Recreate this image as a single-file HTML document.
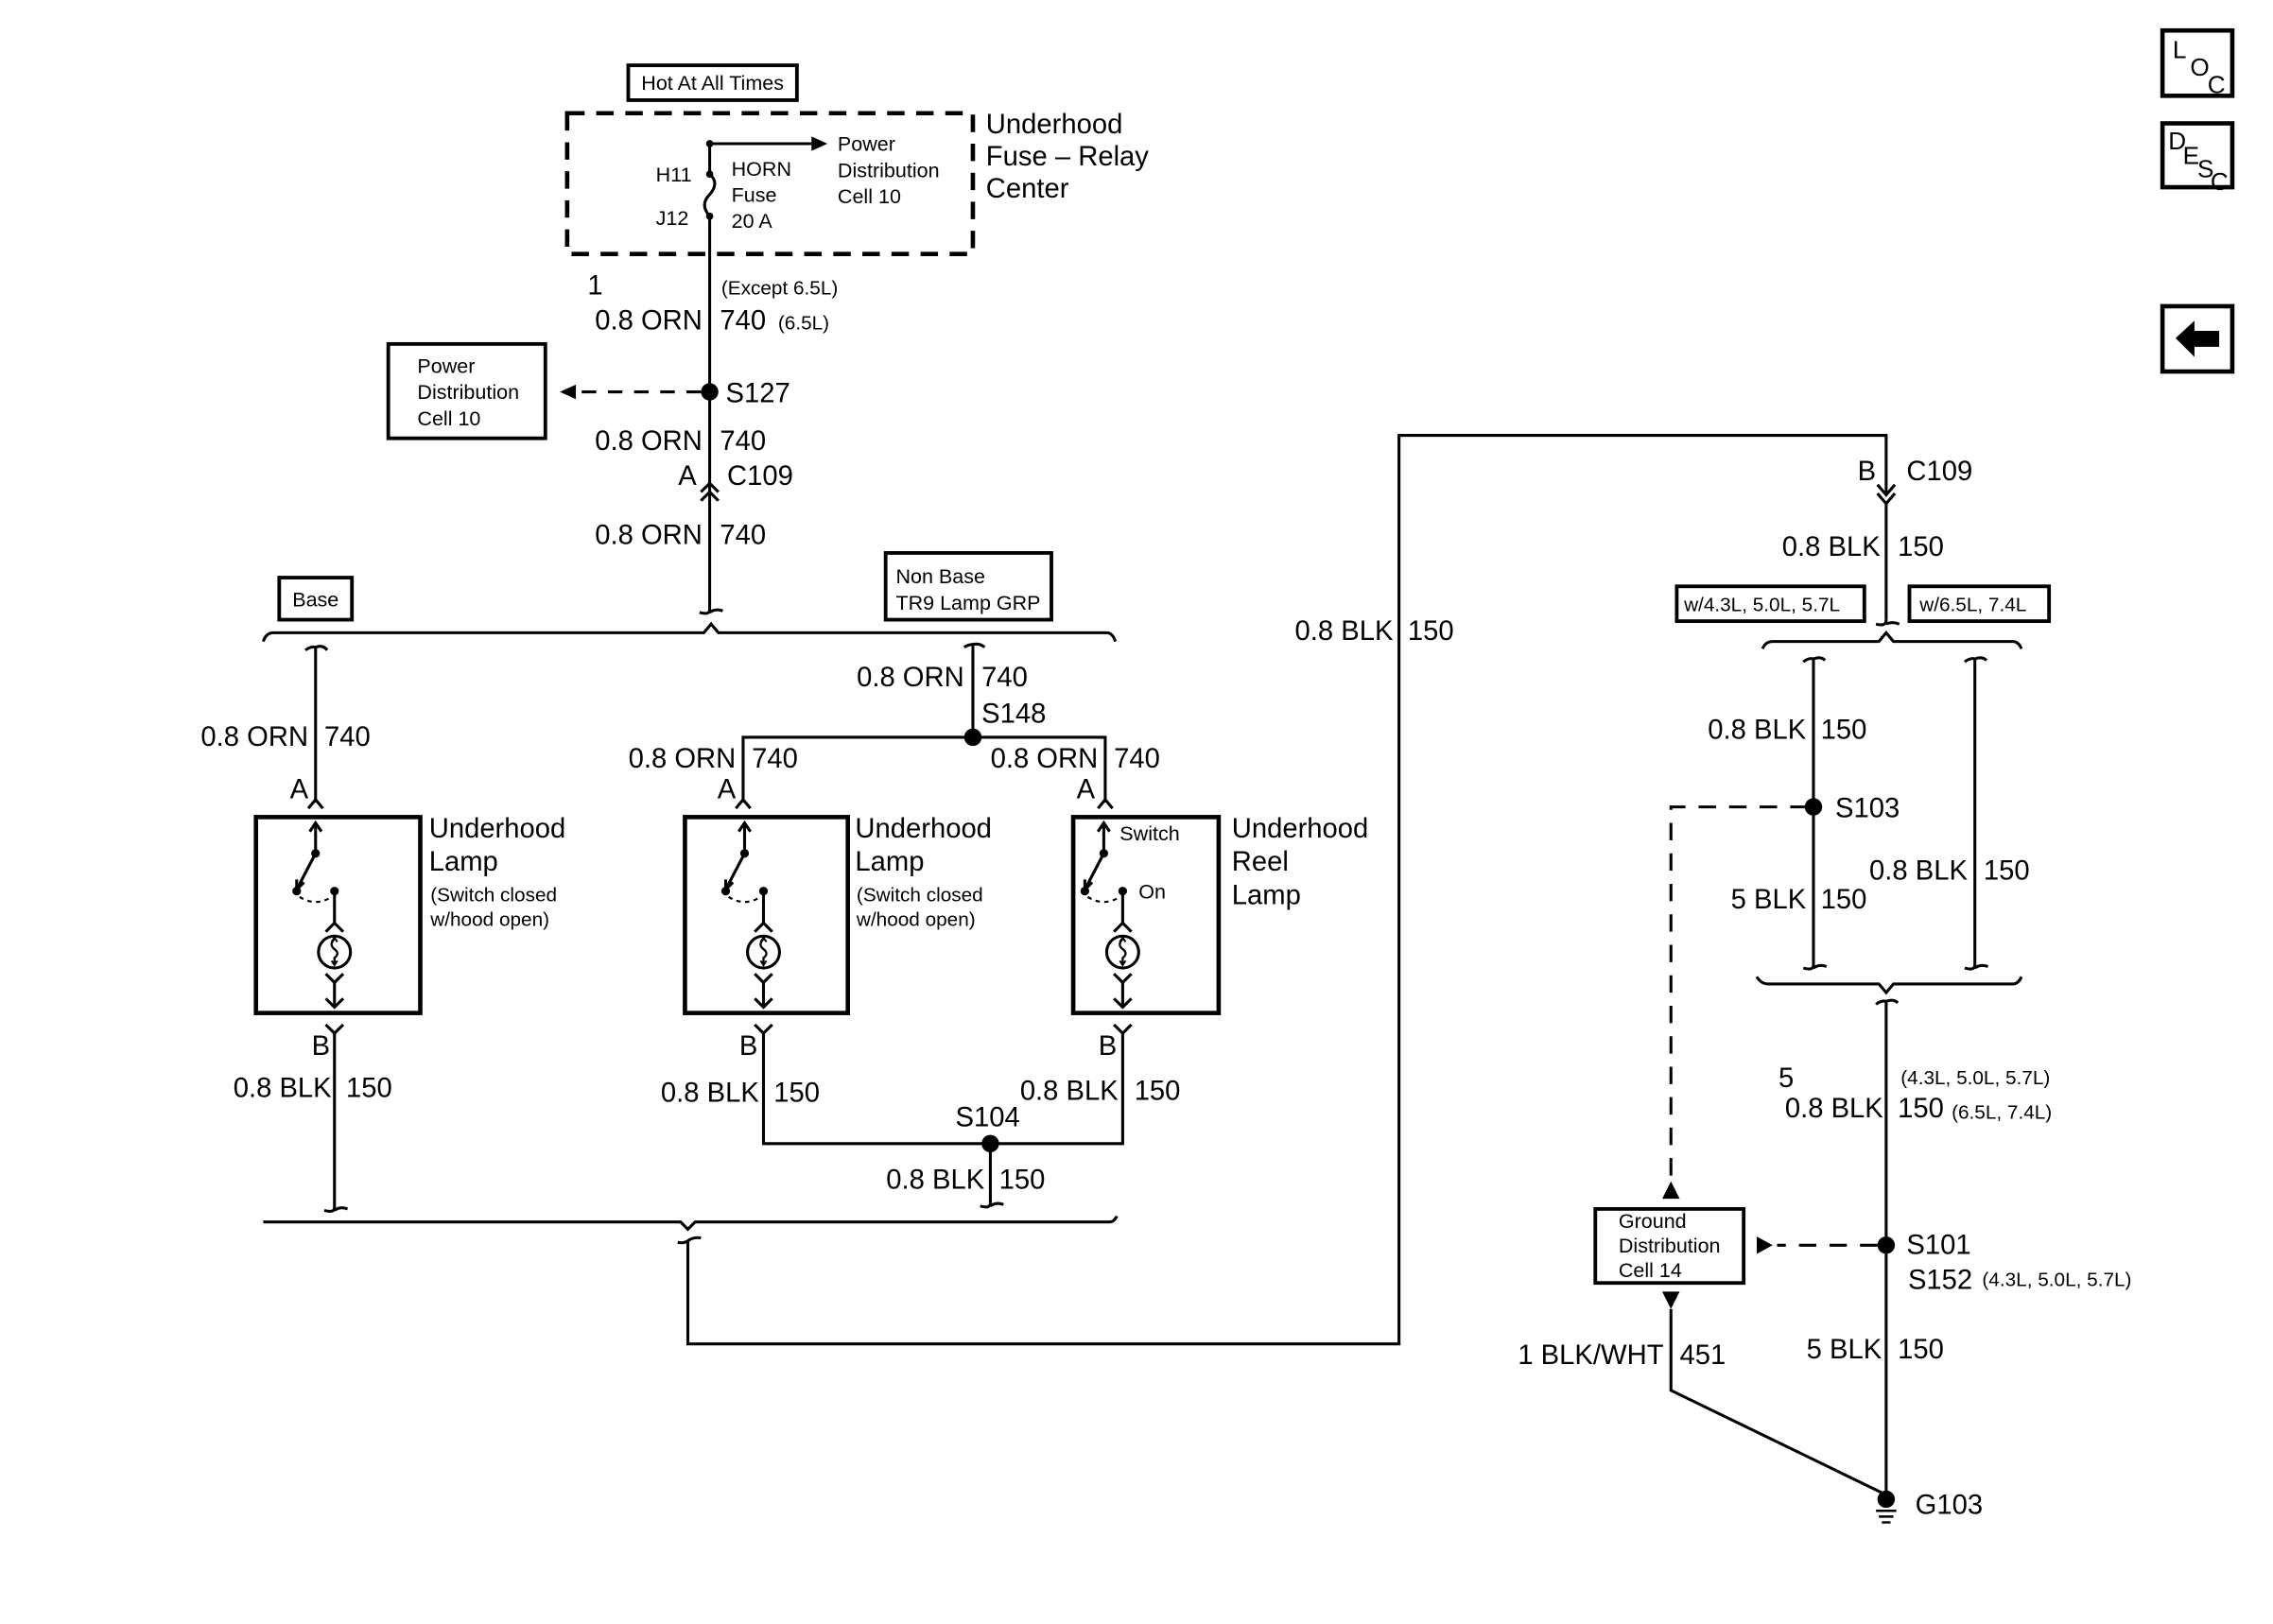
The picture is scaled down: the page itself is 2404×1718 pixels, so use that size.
<!DOCTYPE html>
<html><head><meta charset="utf-8"><style>
html,body{margin:0;padding:0;background:#fff;}
svg{display:block;}
text{font-family:"Liberation Sans",Arial,sans-serif;fill:#000;}
.b{font-size:19px;}
.s{font-size:13.5px;}
.m{font-size:14px;}
.i{font-size:17px;}
</style></head><body>
<svg width="2404" height="1718" viewBox="0 0 1563 1119" preserveAspectRatio="none" xmlns="http://www.w3.org/2000/svg">
<defs>
<g id="lamp" fill="none" stroke="#000" stroke-width="2">
  <path d="M0 4 L0 25"/><path d="M-4 10 L0 4 L4 10"/>
  <circle cx="0" cy="25" r="3" fill="#000" stroke="none"/>
  <path d="M0 25 L-13 50"/><path d="M-13 43 L-13 50 L-8 45"/>
  <circle cx="-13" cy="51" r="3" fill="#000" stroke="none"/>
  <circle cx="13" cy="51" r="3" fill="#000" stroke="none"/>
  <path d="M-11 55 Q0 62 11 55" stroke-width="1.4" stroke-dasharray="3 3"/>
  <path d="M13 51 L13 74"/><path d="M7 79 L13 73 L19 79"/>
  <circle cx="13" cy="93" r="11"/>
  <path d="M13 84 Q9 88 13 91 Q17 94 13 97 L13 102" stroke-width="1.5"/>
  <path d="M11 86 L13 83 L15 86 M11 99 L13 102 L15 99" stroke-width="1.3"/>
  <path d="M7 108 L13 114 L19 108"/><path d="M13 114 L13 131"/><path d="M7 125 L13 131 L19 125"/>
</g>
</defs>
<g fill="none" stroke="#000" stroke-width="2">
<rect x="432" y="45" width="116" height="24" stroke-width="2.5"/>
<rect x="390" y="78" width="279" height="97" stroke-width="3" stroke-dasharray="12 8"/>
<path d="M488 97 L488 120"/>
<path d="M488 99 L558 99"/>
<path d="M488 120 Q495 126 488 134 Q481 141 488 149"/>
<path d="M488 149 L488 422"/>
<path d="M481 422 Q488 424 488 420 M488 422 Q492 419 497 421"/>
<path d="M482 270 L398 270" stroke-dasharray="10 8"/>
<rect x="267" y="237" width="108" height="65" stroke-width="2.5"/>
<path d="M482 339 L488 333 L494 339 M482 345 L488 339 L494 345"/>
<path d="M181 442 Q183 436 188 436 L484 436 L489 430 L494 436 L761 436 Q765 436 767 442"/>
<rect x="192" y="398" width="50" height="29" stroke-width="2.5"/>
<rect x="609" y="381" width="114" height="46" stroke-width="2.5"/>
<path d="M210 448 Q214 445 217 446 Q222 444 225 448 M217 446 L217 553"/>
<path d="M212 557 L217 551 L222 557"/>
<path d="M663 446 Q666 444 669 444 Q674 443 677 446 M669 444 L669 508"/>
<path d="M511 553 L511 508 L760 508 L760 553"/>
<path d="M506 557 L511 551 L516 557 M755 557 L760 551 L765 557"/>
<rect x="176" y="563" width="113" height="135" stroke-width="3"/>
<rect x="471" y="563" width="112" height="135" stroke-width="3"/>
<rect x="738" y="563" width="100" height="135" stroke-width="3"/>
<use href="#lamp" transform="translate(217,563)"/>
<use href="#lamp" transform="translate(512,563)"/>
<use href="#lamp" transform="translate(759,563)"/>
<path d="M224 706 L230 712 L236 706 M230 712 L230 833"/>
<path d="M223 834 Q230 836 230 832 M230 834 Q234 831 239 833"/>
<path d="M519 706 L525 712 L531 706 M525 712 L525 788 L772 788 L772 712 M766 706 L772 712 L778 706"/>
<path d="M681 788 L681 829"/>
<path d="M674 831 Q681 833 681 829 M681 831 Q685 828 690 830"/>
<path d="M181 842 Q183 842 186 842 L468 842 L473 847 L478 842 L763 842 Q766 842 768 838" />
<path d="M466 856 Q470 857 473 855 Q477 852 482 853 M473 855 L473 926 L962 926 L962 300 L1297 300 L1297 340"/>
<path d="M1291 334 L1297 341 L1303 334 M1291 340 L1297 347 L1303 340 M1297 347 L1297 427"/>
<path d="M1290 430 Q1297 432 1297 427 M1297 430 Q1301 428 1306 430"/>
<rect x="1153" y="404" width="129" height="24" stroke-width="2.5"/>
<rect x="1313" y="404" width="96" height="24" stroke-width="2.5"/>
<path d="M1212 447 Q1214 442 1219 442 L1292 442 L1297 436 L1302 442 L1384 442 Q1388 442 1390 447"/>
<path d="M1240 456 Q1244 453 1247 454 Q1252 452 1255 455 M1247 454 L1247 665"/>
<path d="M1240 667 Q1247 669 1247 665 M1247 667 Q1251 664 1256 666"/>
<path d="M1351 456 Q1355 453 1358 454 Q1363 452 1366 455 M1358 454 L1358 665"/>
<path d="M1351 667 Q1358 669 1358 665 M1358 667 Q1362 664 1367 666"/>
<path d="M1208 673 Q1211 678 1216 678 L1292 678 L1297 684 L1302 678 L1384 678 Q1388 678 1390 673"/>
<path d="M1290 692 Q1294 689 1297 690 Q1302 688 1305 691 M1297 690 L1297 1033"/>
<path d="M1243 556 L1149 556 L1149 818" stroke-dasharray="12 9"/>
<path d="M1291 858 L1222 858" stroke-dasharray="12 9"/>
<rect x="1097" y="833" width="102" height="51" stroke-width="2.5"/>
<path d="M1149 902 L1149 958 L1297 1030"/>
<path d="M1290 1041 L1304 1041 M1292 1045 L1302 1045 M1294 1049 L1300 1049" stroke-width="1.6"/>
<rect x="1487" y="21" width="48" height="45" stroke-width="3"/>
<rect x="1487" y="85" width="48" height="44" stroke-width="3"/>
<rect x="1487" y="211" width="48" height="45" stroke-width="3"/>
</g>
<g fill="#000">
<path d="M558 94 L569 99 L558 104Z"/>
<circle cx="488" cy="99" r="2.5"/><circle cx="488" cy="120" r="2.5"/><circle cx="488" cy="149" r="2.5"/>
<circle cx="488" cy="270" r="6"/>
<path d="M396 265 L385 270 L396 275Z"/>
<circle cx="669" cy="508" r="6"/>
<circle cx="681" cy="788" r="6"/>
<circle cx="1247" cy="556" r="6"/>
<circle cx="1297" cy="858" r="6"/>
<circle cx="1297" cy="1033" r="6"/>
<path d="M1143 826 L1149 814 L1155 826Z"/>
<path d="M1143 890 L1149 902 L1155 890Z"/>
<path d="M1208 852 L1219 858 L1208 864Z"/>
<path d="M1496 233 L1509 221 L1509 228 L1526 228 L1526 239 L1509 239 L1509 246Z"/>
</g>
<text class="m" x="490" y="62" text-anchor="middle">Hot At All Times</text>
<text class="m" x="451" y="125">H11</text>
<text class="m" x="451" y="155">J12</text>
<text class="m" x="503" y="121">HORN</text>
<text class="m" x="503" y="139">Fuse</text>
<text class="m" x="503" y="157">20 A</text>
<text class="m" x="576" y="104">Power</text>
<text class="m" x="576" y="122">Distribution</text>
<text class="m" x="576" y="140">Cell 10</text>
<text class="b" x="678" y="92">Underhood</text>
<text class="b" x="678" y="114">Fuse – Relay</text>
<text class="b" x="678" y="136">Center</text>
<text class="b" x="404" y="203">1</text>
<text class="s" x="496" y="203">(Except 6.5L)</text>
<text class="b" x="483" y="227" text-anchor="end">0.8 ORN</text>
<text class="b" x="495" y="227">740</text>
<text class="s" x="535" y="227">(6.5L)</text>
<text class="m" x="287" y="257">Power</text>
<text class="m" x="287" y="275">Distribution</text>
<text class="m" x="287" y="293">Cell 10</text>
<text class="b" x="499" y="277">S127</text>
<text class="b" x="483" y="310" text-anchor="end">0.8 ORN</text>
<text class="b" x="495" y="310">740</text>
<text class="b" x="479" y="334" text-anchor="end">A</text>
<text class="b" x="500" y="334">C109</text>
<text class="b" x="483" y="375" text-anchor="end">0.8 ORN</text>
<text class="b" x="495" y="375">740</text>
<text class="m" x="217" y="418" text-anchor="middle">Base</text>
<text class="m" x="616" y="402">Non Base</text>
<text class="m" x="616" y="420">TR9 Lamp GRP</text>
<text class="b" x="663" y="473" text-anchor="end">0.8 ORN</text>
<text class="b" x="675" y="473">740</text>
<text class="b" x="675" y="498">S148</text>
<text class="b" x="212" y="514" text-anchor="end">0.8 ORN</text>
<text class="b" x="223" y="514">740</text>
<text class="b" x="506" y="529" text-anchor="end">0.8 ORN</text>
<text class="b" x="517" y="529">740</text>
<text class="b" x="755" y="529" text-anchor="end">0.8 ORN</text>
<text class="b" x="766" y="529">740</text>
<text class="b" x="212" y="550" text-anchor="end">A</text>
<text class="b" x="506" y="550" text-anchor="end">A</text>
<text class="b" x="753" y="550" text-anchor="end">A</text>
<text class="b" x="295" y="577">Underhood</text>
<text class="b" x="295" y="600">Lamp</text>
<text class="s" x="296" y="621">(Switch closed</text>
<text class="s" x="296" y="638">w/hood open)</text>
<text class="b" x="588" y="577">Underhood</text>
<text class="b" x="588" y="600">Lamp</text>
<text class="s" x="589" y="621">(Switch closed</text>
<text class="s" x="589" y="638">w/hood open)</text>
<text class="m" x="770" y="579">Switch</text>
<text class="m" x="783" y="619">On</text>
<text class="b" x="847" y="577">Underhood</text>
<text class="b" x="847" y="600">Reel</text>
<text class="b" x="847" y="623">Lamp</text>
<text class="b" x="227" y="727" text-anchor="end">B</text>
<text class="b" x="521" y="727" text-anchor="end">B</text>
<text class="b" x="768" y="727" text-anchor="end">B</text>
<text class="b" x="228" y="756" text-anchor="end">0.8 BLK</text>
<text class="b" x="238" y="756">150</text>
<text class="b" x="522" y="759" text-anchor="end">0.8 BLK</text>
<text class="b" x="532" y="759">150</text>
<text class="b" x="769" y="758" text-anchor="end">0.8 BLK</text>
<text class="b" x="780" y="758">150</text>
<text class="b" x="657" y="776">S104</text>
<text class="b" x="677" y="819" text-anchor="end">0.8 BLK</text>
<text class="b" x="687" y="819">150</text>
<text class="b" x="958" y="441" text-anchor="end">0.8 BLK</text>
<text class="b" x="968" y="441">150</text>
<text class="b" x="1290" y="331" text-anchor="end">B</text>
<text class="b" x="1311" y="331">C109</text>
<text class="b" x="1293" y="383" text-anchor="end">0.8 BLK</text>
<text class="b" x="1305" y="383">150</text>
<text class="s" x="1158" y="421">w/4.3L, 5.0L, 5.7L</text>
<text class="s" x="1320" y="421">w/6.5L, 7.4L</text>
<text class="b" x="1242" y="509" text-anchor="end">0.8 BLK</text>
<text class="b" x="1252" y="509">150</text>
<text class="b" x="1262" y="563">S103</text>
<text class="b" x="1242" y="626" text-anchor="end">5 BLK</text>
<text class="b" x="1252" y="626">150</text>
<text class="b" x="1353" y="606" text-anchor="end">0.8 BLK</text>
<text class="b" x="1364" y="606">150</text>
<text class="b" x="1223" y="749">5</text>
<text class="s" x="1307" y="747">(4.3L, 5.0L, 5.7L)</text>
<text class="b" x="1295" y="770" text-anchor="end">0.8 BLK</text>
<text class="b" x="1305" y="770">150</text>
<text class="s" x="1342" y="771">(6.5L, 7.4L)</text>
<text class="m" x="1113" y="846">Ground</text>
<text class="m" x="1113" y="863">Distribution</text>
<text class="m" x="1113" y="880">Cell 14</text>
<text class="b" x="1311" y="864">S101</text>
<text class="b" x="1312" y="888">S152</text>
<text class="s" x="1363" y="886">(4.3L, 5.0L, 5.7L)</text>
<text class="b" x="1144" y="940" text-anchor="end">1 BLK/WHT</text>
<text class="b" x="1155" y="940">451</text>
<text class="b" x="1294" y="936" text-anchor="end">5 BLK</text>
<text class="b" x="1305" y="936">150</text>
<text class="b" x="1317" y="1043">G103</text>
<text class="i" x="1494" y="40">L</text>
<text class="i" x="1506" y="52">O</text>
<text class="i" x="1518" y="64">C</text>
<text class="i" x="1491" y="103">D</text>
<text class="i" x="1501" y="113">E</text>
<text class="i" x="1511" y="122">S</text>
<text class="i" x="1520" y="131">C</text>
</svg>
</body></html>
